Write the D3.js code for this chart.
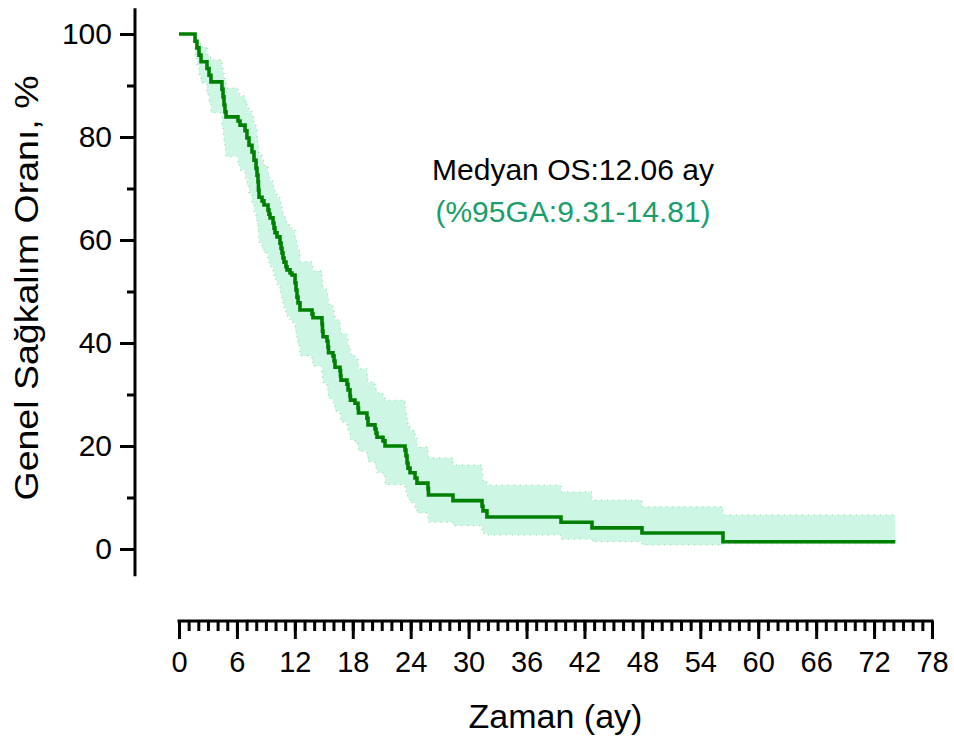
<!DOCTYPE html>
<html>
<head>
<meta charset="utf-8">
<script src="https://cdn.jsdelivr.net/npm/d3@7"></script>
<style>
  body { margin: 0; background: #fff; }
  svg text { font-family: "Liberation Sans", Arial, sans-serif; }
</style>
</head>
<body>
<div id="chart"></div>
<script>
// Kaplan-Meier steps (months, %)
var times = [0, 1.66, 1.86, 2.07, 2.28, 2.90, 3.11, 3.31, 4.45, 4.56, 4.66, 4.76, 4.87,
  6.11, 6.32, 6.84, 7.04, 7.25, 7.56, 7.77, 7.98, 8.08, 8.18, 8.23, 8.29, 8.60, 8.80,
  9.22, 9.32, 9.43, 9.74, 9.84, 9.94, 10.15, 10.46, 10.57, 10.67, 10.77, 10.88, 11.08,
  11.19, 11.50, 11.70, 12.02, 12.12, 12.22, 12.33, 12.53, 13.78, 13.88, 14.81, 14.86,
  14.92, 15.33, 15.43, 15.49, 15.95, 16.06, 16.16, 16.68, 16.73, 16.78, 17.40, 17.51,
  17.71, 17.76, 18.23, 18.54, 18.59, 19.47, 19.58, 20.30, 20.41, 20.51, 21.13, 21.34,
  23.41, 23.51, 23.62, 23.72, 23.93, 24.45, 24.65, 25.79, 25.84, 28.38, 31.39, 31.49,
  31.90, 39.57, 42.78, 47.96, 56.35];
var survival = [100, 98.6, 97.3, 95.9, 94.6, 93.3, 92.0, 90.7, 89.3, 87.8, 86.2, 84.9, 83.9,
  83.1, 82.3, 81.2, 79.8, 78.4, 77.1, 75.5, 73.9, 72.6, 71.3, 69.7, 68.3, 67.6, 66.8,
  65.8, 65.0, 64.3, 63.3, 62.3, 61.4, 60.6, 59.4, 58.4, 57.5, 56.5, 55.7, 54.8,
  54.2, 53.6, 53.2, 51.7, 50.3, 48.9, 47.8, 46.4, 45.6, 44.9, 43.7, 42.3,
  41.2, 40.4, 39.2, 38.1, 37.5, 36.5, 35.3, 34.6, 33.6, 32.8, 32.0, 30.9,
  29.7, 28.9, 28.3, 27.4, 26.4, 25.4, 24.1, 23.3, 22.5, 21.7, 21.0, 20.0,
  19.2, 18.1, 16.7, 15.7, 14.8, 13.8, 12.8, 11.7, 10.5, 9.4, 8.3, 7.4,
  6.2, 5.2, 4.1, 3.1, 1.4];
var lower = [100, 95.5, 94.0, 92.0, 90.5, 88.2, 86.5, 84.7, 82.0, 80.5, 79.0, 77.5, 76.2,
  74.5, 73.5, 72.0, 70.5, 69.0, 67.0, 65.5, 64.0, 63.0, 61.8, 60.5, 59.5, 58.3, 57.5,
  56.2, 55.5, 54.8, 53.8, 53.0, 52.3, 51.3, 49.8, 49.0, 48.3, 47.5, 46.8, 45.8,
  45.2, 44.5, 44.0, 42.5, 41.5, 40.5, 39.5, 37.5, 36.5, 35.5, 34.0, 33.0,
  32.2, 31.2, 30.0, 29.2, 28.5, 27.8, 26.8, 26.0, 25.3, 24.6, 23.8, 22.8,
  21.8, 21.2, 20.6, 19.8, 19.0, 17.9, 16.9, 16.2, 15.5, 14.8, 14.2, 12.5,
  11.8, 11.0, 10.3, 9.8, 9.0, 7.8, 7.0, 6.0, 5.2, 4.5, 3.5, 3.0,
  2.7, 1.9, 1.4, 0.8, 1.0];
var upper = [100, 99.6, 98.8, 98.2, 97.5, 96.0, 95.5, 95.0, 93.6, 92.5, 91.5, 90.7, 89.5,
  88.5, 88.0, 87.0, 85.8, 85.0, 84.0, 82.5, 81.5, 80.0, 78.8, 77.5, 76.5, 75.5, 74.5,
  73.0, 72.2, 71.5, 70.5, 69.8, 69.0, 68.3, 67.5, 66.5, 65.8, 65.2, 64.5, 63.5,
  63.0, 62.3, 62.0, 60.5, 59.8, 59.0, 58.0, 55.8, 55.0, 54.0, 52.5, 51.5,
  50.5, 49.5, 48.5, 47.5, 46.5, 45.5, 44.5, 43.5, 42.5, 41.8, 40.8, 39.5,
  38.5, 37.8, 37.0, 36.0, 35.0, 33.8, 32.4, 31.5, 30.8, 30.3, 29.5, 28.9,
  27.5, 26.2, 25.2, 24.0, 23.0, 21.5, 19.8, 18.6, 17.7, 16.3, 14.5, 13.2,
  12.4, 11.1, 9.5, 8.2, 6.6];
var lastTime = 74.2;

var xMajor = d3.range(0, 79, 6);
var xMinor = d3.range(0, 79, 1);
var yMajor = [0, 20, 40, 60, 80, 100];
var yMinor = [10, 30, 50, 70, 90];

var width = 954, height = 744;

var x = d3.scaleLinear().domain([0, 78]).range([179, 932]);
var y = d3.scaleLinear().domain([0, 100]).range([549, 34]);

var data = times.map(function (t, i) {
  return { t: t, s: survival[i], lo: lower[i], hi: upper[i] };
});
var last = data[data.length - 1];
data.push({ t: lastTime, s: last.s, lo: last.lo, hi: last.hi });

var svg = d3.select('#chart').append('svg')
  .attr('width', width)
  .attr('height', height);

// confidence band
var band = d3.area()
  .curve(d3.curveStepAfter)
  .x(function (d) { return x(d.t); })
  .y0(function (d) { return y(d.lo); })
  .y1(function (d) { return y(d.hi); });

svg.append('path')
  .datum(data)
  .attr('d', band)
  .attr('fill', '#cdf6e5');

['lo', 'hi'].forEach(function (k) {
  svg.append('path')
    .datum(data)
    .attr('d', d3.line().curve(d3.curveStepAfter)
      .x(function (d) { return x(d.t); })
      .y(function (d) { return y(d[k]); }))
    .attr('fill', 'none')
    .attr('stroke', '#86d49c')
    .attr('stroke-width', 1)
    .attr('stroke-dasharray', '1,5');
});

// survival line
svg.append('path')
  .datum(data)
  .attr('d', d3.line().curve(d3.curveStepAfter)
    .x(function (d) { return x(d.t); })
    .y(function (d) { return y(d.s); }))
  .attr('fill', 'none')
  .attr('stroke', '#008000')
  .attr('stroke-width', 3.6);

// y axis
var axisX = 135;
var gy = svg.append('g').attr('transform', 'translate(' + axisX + ',0)');
gy.call(d3.axisLeft(y).tickValues(yMajor).tickSize(15).tickPadding(8));
gy.append('g').call(d3.axisLeft(y).tickValues(yMinor).tickSize(8).tickFormat(''));
gy.selectAll('.domain').remove();
gy.selectAll('line').attr('stroke', '#000').attr('stroke-width', 3);
gy.selectAll('text').style('font-size', '30px').attr('fill', '#000');
gy.append('line')
  .attr('x1', 0).attr('x2', 0)
  .attr('y1', y(105)).attr('y2', y(-5.3))
  .attr('stroke', '#000').attr('stroke-width', 3);

// x axis
var axisY = 621;
var gx = svg.append('g').attr('transform', 'translate(0,' + axisY + ')');
gx.call(d3.axisBottom(x).tickValues(xMajor).tickSize(18).tickPadding(12));
gx.append('g').call(d3.axisBottom(x).tickValues(xMinor).tickSize(10).tickFormat(''));
gx.selectAll('.domain').remove();
gx.selectAll('line').attr('stroke', '#000').attr('stroke-width', 3);
gx.selectAll('text').style('font-size', '29px').attr('fill', '#000');
gx.append('line')
  .attr('x1', x(0) - 1.5).attr('x2', x(78) + 1.5)
  .attr('y1', 0).attr('y2', 0)
  .attr('stroke', '#000').attr('stroke-width', 3);

// axis titles
svg.append('text')
  .attr('transform', 'translate(38,' + 288 + ') rotate(-90)')
  .attr('text-anchor', 'middle')
  .attr('textLength', 425)
  .attr('lengthAdjust', 'spacingAndGlyphs')
  .style('font-size', '33px')
  .text('Genel Sağkalım Oranı, %');

svg.append('text')
  .attr('x', x(39)).attr('y', 728)
  .attr('text-anchor', 'middle')
  .style('font-size', '34px')
  .text('Zaman (ay)');

// annotation
svg.append('text')
  .attr('x', 573).attr('y', 180)
  .attr('text-anchor', 'middle')
  .style('font-size', '30px')
  .text('Medyan OS:12.06 ay');

svg.append('text')
  .attr('x', 573).attr('y', 222)
  .attr('text-anchor', 'middle')
  .style('font-size', '30px')
  .attr('fill', '#1a9e6c')
  .text('(%95GA:9.31-14.81)');
</script>
</body>
</html>
